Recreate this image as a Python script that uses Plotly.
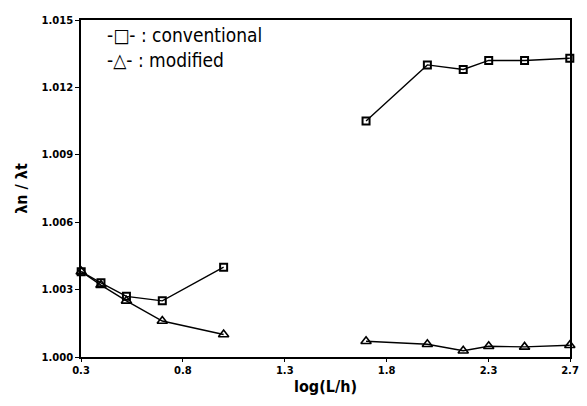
import plotly.graph_objects as go

x_left = [0.301, 0.398, 0.523, 0.699, 1.0]
x_right = [1.699, 2.0, 2.176, 2.301, 2.477, 2.699]
conv_left = [1.0038, 1.0033, 1.0027, 1.0025, 1.0040]
conv_right = [1.0105, 1.0130, 1.0128, 1.0132, 1.0132, 1.0133]
mod_left = [1.0038, 1.0032, 1.0025, 1.0016, 1.0010]
mod_right = [1.0007, 1.00057, 1.00028, 1.00048, 1.00045, 1.00052]
x_ticks = [0.3, 0.8, 1.3, 1.8, 2.3, 2.7]
y_ticks = [1.000, 1.003, 1.006, 1.009, 1.012, 1.015]

fig = go.Figure()
for xs, ys in [(x_left, conv_left), (x_right, conv_right)]:
    fig.add_trace(go.Scatter(x=xs, y=ys, mode="lines+markers",
                             line=dict(color="black", width=1.4),
                             marker=dict(symbol="square-open", size=7, color="black", line=dict(width=2)),
                             showlegend=False, cliponaxis=False))
for xs, ys in [(x_left, mod_left), (x_right, mod_right)]:
    fig.add_trace(go.Scatter(x=xs, y=ys, mode="lines+markers",
                             line=dict(color="black", width=1.4),
                             marker=dict(symbol="triangle-up-open", size=9, color="black", line=dict(width=1.6)),
                             showlegend=False, cliponaxis=False))

axis_font = dict(family="DejaVu Sans", size=10, color="black", weight="bold")
title_font = dict(family="DejaVu Sans Condensed, DejaVu Sans", size=16, color="black", weight="bold")
fig.update_xaxes(range=[0.3, 2.7], tickvals=x_ticks, ticktext=[f"{v:.1f}" for v in x_ticks],
                 showgrid=False, zeroline=False, showline=True, linecolor="black", linewidth=1.5,
                 mirror=True, ticks="outside", ticklen=3, tickcolor="black", tickfont=axis_font,
                 title=dict(text="log(L/h)", font=title_font, standoff=6))
fig.update_yaxes(range=[1.000, 1.015], tickvals=y_ticks, ticktext=[f"{v:.3f}" for v in y_ticks],
                 showgrid=False, zeroline=False, showline=True, linecolor="black", linewidth=1.5,
                 mirror=True, ticks="outside", ticklen=4, tickcolor="black", tickfont=axis_font,
                 title=dict(text="λn / λt", font=title_font, standoff=10))

fig.add_annotation(x=0.05, y=0.995, xref="paper", yref="paper", xanchor="left", yanchor="top",
                   text="-□- : conventional<br>-△- : modified", showarrow=False, align="left",
                   font=dict(family="DejaVu Sans Condensed, DejaVu Sans", size=19, color="black"))

fig.update_layout(width=587, height=406, margin=dict(l=73, r=25, t=6, b=57),
                  plot_bgcolor="white", paper_bgcolor="white")
fig.write_html("out.html")
